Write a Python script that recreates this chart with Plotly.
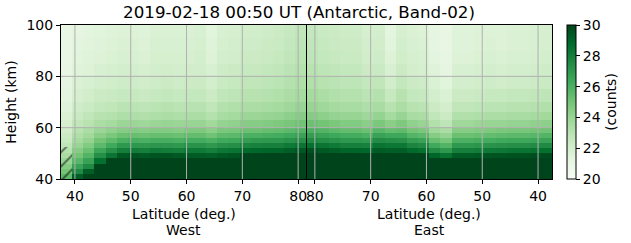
import numpy as np
import plotly.graph_objects as go

title_text = "2019-02-18 00:50 UT (Antarctic, Band-02)"

# Height bin edges (km)
height_edges = [40, 42, 44, 46, 48, 50, 52, 54, 56, 58, 60, 63, 66, 70, 75, 80, 85, 90, 95, 100]

# Latitude bin edges (deg) for the two halves of the pass
west_lat_edges = [37.5, 39.5, 41.5, 43.5, 45.5, 47.5, 49.5, 51.5, 53.5, 55.5, 57.5, 59.5,
                  61.5, 63.5, 65.5, 67.5, 69.5, 71.5, 73.5, 75.5, 77.5, 79.5, 81.5]
east_lat_edges = [81.5, 79.5, 77.5, 75.5, 73.5, 71.5, 69.5, 67.5, 65.5, 63.5, 61.5, 59.5,
                  57.5, 55.5, 53.5, 51.5, 49.5, 47.5, 45.5, 43.5, 41.5, 39.5, 37.5]

# Counts profiles (bottom -> top, one per latitude bin), West side
west_profiles = [
    [25.6, 25.0, 24.5, 24.0, 23.5, 23.1, 22.8, 22.5, 22.3, 22.1, 21.9, 21.7, 21.5, 21.3, 21.2, 21.1, 21.0, 21.0, 21.0],
    [29.2, 27.6, 26.6, 25.7, 25.0, 24.5, 24.0, 23.6, 23.3, 23.0, 22.7, 22.4, 22.2, 21.9, 21.7, 21.5, 21.4, 21.3, 21.2],
    [30.6, 29.2, 27.6, 26.6, 25.8, 25.2, 24.6, 24.1, 23.7, 23.4, 23.0, 22.7, 22.4, 22.1, 21.8, 21.6, 21.5, 21.4, 21.3],
    [31.0, 31.0, 30.2, 28.6, 27.4, 26.5, 25.6, 25.0, 24.4, 23.9, 23.4, 23.0, 22.6, 22.3, 22.0, 21.8, 21.6, 21.5, 21.4],
    [31.0, 31.0, 31.0, 30.2, 28.4, 27.3, 26.3, 25.5, 24.8, 24.2, 23.6, 23.1, 22.7, 22.4, 22.1, 21.9, 21.7, 21.6, 21.5],
    [31.0, 31.0, 31.0, 31.0, 29.4, 28.0, 27.0, 26.0, 25.2, 24.5, 23.9, 23.3, 22.9, 22.5, 22.2, 22.0, 21.8, 21.7, 21.6],
    [31.0, 31.0, 31.0, 31.0, 29.5, 28.1, 27.0, 26.1, 25.3, 24.6, 23.9, 23.3, 22.9, 22.5, 22.2, 22.0, 21.8, 21.7, 21.6],
    [31.0, 31.0, 31.0, 31.0, 29.4, 28.0, 27.0, 26.0, 25.2, 24.5, 23.8, 23.2, 22.8, 22.4, 22.1, 21.9, 21.7, 21.6, 21.5],
    [31.0, 31.0, 31.0, 31.0, 29.5, 28.2, 27.1, 26.1, 25.3, 24.6, 23.9, 23.3, 22.9, 22.5, 22.2, 22.0, 21.9, 21.8, 21.7],
    [31.0, 31.0, 31.0, 31.0, 29.5, 28.1, 27.1, 26.1, 25.3, 24.6, 24.0, 23.4, 23.0, 22.6, 22.3, 22.1, 21.9, 21.8, 21.7],
    [31.0, 31.0, 31.0, 31.0, 29.4, 28.0, 27.0, 26.0, 25.2, 24.5, 23.9, 23.3, 22.9, 22.5, 22.2, 22.0, 21.9, 21.8, 21.7],
    [31.0, 31.0, 31.0, 31.0, 29.3, 28.2, 27.2, 26.2, 25.4, 24.7, 24.0, 23.4, 23.0, 22.6, 22.3, 22.1, 21.9, 21.8, 21.7],
    [31.0, 31.0, 31.0, 31.0, 29.3, 28.2, 27.2, 26.2, 25.4, 24.7, 24.0, 23.4, 23.0, 22.6, 22.3, 22.1, 22.0, 21.9, 21.8],
    [31.0, 31.0, 31.0, 31.0, 29.2, 28.0, 27.0, 26.0, 25.1, 24.4, 23.7, 23.1, 22.7, 22.3, 22.0, 21.8, 21.6, 21.5, 21.4],
    [31.0, 31.0, 31.0, 31.0, 29.4, 28.3, 27.3, 26.3, 25.5, 24.8, 24.1, 23.5, 23.1, 22.7, 22.4, 22.2, 22.0, 21.9, 21.8],
    [31.0, 31.0, 31.0, 31.0, 29.5, 28.4, 27.4, 26.4, 25.6, 24.9, 24.2, 23.6, 23.2, 22.8, 22.5, 22.3, 22.1, 22.0, 21.9],
    [31.0, 31.0, 31.0, 31.0, 30.0, 28.8, 27.8, 26.8, 26.0, 25.2, 24.5, 23.9, 23.4, 23.0, 22.7, 22.5, 22.3, 22.2, 22.1],
    [31.0, 31.0, 31.0, 31.0, 30.1, 28.9, 27.9, 26.9, 26.0, 25.2, 24.5, 23.9, 23.4, 23.0, 22.7, 22.5, 22.3, 22.2, 22.1],
    [31.0, 31.0, 31.0, 31.0, 30.2, 29.0, 28.0, 27.0, 26.1, 25.3, 24.6, 24.0, 23.5, 23.1, 22.8, 22.6, 22.4, 22.3, 22.2],
    [31.0, 31.0, 31.0, 31.0, 30.2, 29.0, 28.0, 27.0, 26.2, 25.4, 24.7, 24.1, 23.6, 23.2, 22.9, 22.7, 22.5, 22.4, 22.3],
    [31.0, 31.0, 31.0, 31.0, 30.3, 29.2, 28.2, 27.2, 26.4, 25.6, 24.9, 24.3, 23.8, 23.4, 23.1, 22.9, 22.7, 22.6, 22.5],
    [31.0, 31.0, 31.0, 31.0, 30.4, 29.4, 28.4, 27.4, 26.6, 25.8, 25.1, 24.5, 24.0, 23.6, 23.3, 23.1, 22.9, 22.8, 22.7],
]

# East side (from the pole side 80 deg down to 37.5 deg)
east_profiles = [
    [31.0, 31.0, 31.0, 31.0, 31.0, 29.6, 28.6, 27.6, 26.8, 26.0, 25.2, 24.5, 24.0, 23.6, 23.2, 23.0, 22.8, 22.7, 22.6],
    [31.0, 31.0, 31.0, 31.0, 31.0, 29.4, 28.4, 27.4, 26.6, 25.8, 25.0, 24.3, 23.8, 23.4, 23.0, 22.8, 22.6, 22.5, 22.4],
    [31.0, 31.0, 31.0, 31.0, 31.0, 29.2, 28.2, 27.2, 26.4, 25.6, 24.8, 24.1, 23.6, 23.2, 22.9, 22.7, 22.5, 22.4, 22.3],
    [31.0, 31.0, 31.0, 31.0, 31.0, 29.0, 28.0, 27.0, 26.2, 25.4, 24.6, 24.0, 23.5, 23.1, 22.8, 22.6, 22.4, 22.3, 22.2],
    [31.0, 31.0, 31.0, 31.0, 30.6, 29.0, 28.0, 27.0, 26.2, 25.4, 24.6, 24.0, 23.5, 23.1, 22.8, 22.6, 22.4, 22.3, 22.2],
    [31.0, 31.0, 31.0, 31.0, 30.5, 28.9, 27.9, 26.9, 26.0, 25.2, 24.4, 23.8, 23.3, 22.9, 22.6, 22.3, 22.1, 22.0, 21.9],
    [31.0, 31.0, 31.0, 31.0, 30.4, 29.3, 28.4, 27.5, 26.6, 25.7, 24.8, 24.1, 23.5, 23.1, 22.7, 22.4, 22.2, 22.1, 22.0],
    [31.0, 31.0, 31.0, 31.0, 30.3, 29.2, 28.3, 27.4, 26.4, 25.4, 24.4, 23.6, 23.0, 22.5, 22.1, 21.8, 21.6, 21.4, 21.3],
    [31.0, 31.0, 31.0, 31.0, 30.2, 29.2, 28.3, 27.3, 26.4, 25.5, 24.7, 24.0, 23.4, 23.0, 22.6, 22.3, 22.1, 22.0, 21.9],
    [31.0, 31.0, 31.0, 31.0, 30.0, 28.8, 27.8, 26.8, 25.8, 25.0, 24.2, 23.5, 23.0, 22.6, 22.3, 22.0, 21.9, 21.8, 21.7],
    [31.0, 31.0, 31.0, 31.0, 30.0, 28.6, 27.6, 26.6, 25.6, 24.8, 24.0, 23.4, 22.9, 22.5, 22.2, 21.9, 21.8, 21.7, 21.6],
    [31.0, 31.0, 31.0, 30.5, 29.0, 27.5, 26.3, 25.3, 24.5, 23.8, 23.2, 22.7, 22.3, 22.0, 21.7, 21.5, 21.3, 21.2, 21.2],
    [31.0, 31.0, 31.0, 30.5, 28.5, 27.0, 25.8, 24.9, 24.1, 23.4, 22.8, 22.3, 22.0, 21.7, 21.4, 21.2, 21.1, 21.0, 21.0],
    [31.0, 31.0, 31.0, 31.0, 29.3, 28.0, 27.0, 26.0, 25.2, 24.5, 23.8, 23.2, 22.7, 22.3, 22.0, 21.8, 21.6, 21.5, 21.5],
    [31.0, 31.0, 31.0, 31.0, 29.3, 28.0, 27.0, 26.0, 25.2, 24.5, 23.8, 23.2, 22.7, 22.3, 22.0, 21.8, 21.6, 21.5, 21.5],
    [31.0, 31.0, 31.0, 31.0, 29.4, 28.1, 27.1, 26.1, 25.3, 24.6, 23.9, 23.3, 22.8, 22.4, 22.1, 21.9, 21.7, 21.6, 21.6],
    [31.0, 31.0, 31.0, 31.0, 29.5, 28.2, 27.2, 26.2, 25.4, 24.7, 24.0, 23.4, 22.9, 22.5, 22.2, 22.0, 21.8, 21.7, 21.6],
    [31.0, 31.0, 31.0, 31.0, 29.5, 28.3, 27.3, 26.3, 25.5, 24.8, 24.0, 23.4, 22.9, 22.5, 22.1, 21.9, 21.7, 21.6, 21.6],
    [31.0, 31.0, 31.0, 31.0, 29.6, 28.4, 27.4, 26.4, 25.6, 24.9, 24.1, 23.5, 23.0, 22.6, 22.2, 22.0, 21.8, 21.7, 21.7],
    [31.0, 31.0, 31.0, 31.0, 29.6, 28.4, 27.4, 26.4, 25.6, 24.9, 24.1, 23.5, 23.0, 22.6, 22.2, 22.0, 21.8, 21.7, 21.7],
    [31.0, 31.0, 31.0, 31.0, 29.7, 28.5, 27.5, 26.5, 25.7, 25.0, 24.2, 23.6, 23.1, 22.7, 22.3, 22.1, 21.9, 21.8, 21.8],
    [31.0, 31.0, 31.0, 31.0, 29.8, 28.6, 27.6, 26.6, 25.8, 25.1, 24.3, 23.7, 23.2, 22.8, 22.4, 22.2, 22.0, 21.9, 21.9],
]

tick_lats = [40, 50, 60, 70, 80]
height_ticks = [40, 60, 80, 100]
count_ticks = [20, 22, 24, 26, 28, 30]

# Hatched (flagged) region
hatch_lat = [37.5, 39.5]
hatch_height = [40, 52.5]

# ---------------------------------------------------------------
seam = west_lat_edges[-1]
def east_to_u(lat):
    return 2 * seam - lat

x_edges = west_lat_edges + [east_to_u(v) for v in east_lat_edges[1:]]
z = np.array(west_profiles + east_profiles).T

greens = [[0.0, "#f7fcf5"], [0.125, "#e5f5e0"], [0.25, "#c7e9c0"], [0.375, "#a1d99b"],
          [0.5, "#74c476"], [0.625, "#41ab5d"], [0.75, "#238b45"], [0.875, "#006d2c"],
          [1.0, "#00441b"]]

FONT = "DejaVu Sans"
W, H = 631, 243
L, R, T, B = 61, 74, 25, 64
plot_w = W - L - R

fig = go.Figure()
fig.add_trace(go.Heatmap(
    x=x_edges, y=height_edges, z=z, zmin=20, zmax=30, colorscale=greens,
    hoverinfo="skip",
    colorbar=dict(
        x=1 + 15 / plot_w, xanchor="left", xpad=0, ypad=0,
        y=0.5, yanchor="middle", len=1, lenmode="fraction",
        thickness=9, outlinewidth=1, outlinecolor="black",
        tickvals=count_ticks, ticks="outside", ticklen=4, tickcolor="black",
        tickfont=dict(family=FONT, size=14, color="black"),
        title=dict(text="(counts)", side="right", font=dict(family=FONT, size=14, color="black")),
    ),
))

fig.add_trace(go.Bar(
    x=[(hatch_lat[0] + hatch_lat[1]) / 2], y=[hatch_height[1] - hatch_height[0]],
    base=hatch_height[0], width=hatch_lat[1] - hatch_lat[0],
    marker=dict(color="rgba(0,0,0,0)", line=dict(width=0),
                pattern=dict(shape="/", fgcolor="black", bgcolor="rgba(0,0,0,0)",
                             size=10, solidity=0.2, fillmode="overlay")),
    hoverinfo="skip", showlegend=False,
))

x_tickvals = tick_lats + [east_to_u(v) for v in reversed(tick_lats)]
x_ticktext = [str(v) for v in tick_lats] + [str(v) for v in reversed(tick_lats)]

shapes = []
for xv in x_tickvals:
    shapes.append(dict(type="line", xref="x", yref="paper", x0=xv, x1=xv, y0=0, y1=1,
                       line=dict(color="#b0b0b0", width=1), layer="above"))
for yv in height_ticks[1:-1]:
    shapes.append(dict(type="line", xref="paper", yref="y", x0=0, x1=1, y0=yv, y1=yv,
                       line=dict(color="#b0b0b0", width=1), layer="above"))
shapes.append(dict(type="line", xref="x", yref="paper", x0=seam, x1=seam, y0=0, y1=1,
                   line=dict(color="black", width=1), layer="above"))

west_mid = (west_lat_edges[0] + seam) / 2
east_mid = (seam + east_to_u(east_lat_edges[-1])) / 2
annotations = []
for xm, side in [(west_mid, "West"), (east_mid, "East")]:
    annotations.append(dict(x=xm, xref="x", y=0, yref="paper", yanchor="middle", yshift=-35,
                            text="Latitude (deg.)", showarrow=False,
                            font=dict(family=FONT, size=14, color="black")))
    annotations.append(dict(x=xm, xref="x", y=0, yref="paper", yanchor="middle", yshift=-51,
                            text=side, showarrow=False,
                            font=dict(family=FONT, size=14, color="black")))

fig.update_layout(
    width=W, height=H, margin=dict(l=L, r=R, t=T, b=B),
    paper_bgcolor="white", plot_bgcolor="white",
    font=dict(family=FONT, size=14, color="black"),
    title=dict(text=title_text, x=299 / W, xanchor="center", xref="container",
               y=1 - 12 / H, yanchor="middle", yref="container",
               font=dict(family=FONT, size=16.7, color="black")),
    xaxis=dict(range=[x_edges[0], x_edges[-1]], tickvals=x_tickvals, ticktext=x_ticktext,
               tickangle=0,
               showgrid=False, zeroline=False, ticks="outside", ticklen=4, tickcolor="black",
               showline=True, mirror=True, linecolor="black", linewidth=1, layer="above traces",
               tickfont=dict(family=FONT, size=14, color="black")),
    yaxis=dict(range=[height_edges[0], height_edges[-1]], tickvals=height_ticks,
               showgrid=False, zeroline=False, ticks="outside", ticklen=4, tickcolor="black",
               showline=True, mirror=True, linecolor="black", linewidth=1, layer="above traces",
               title=dict(text="Height (km)", standoff=6, font=dict(family=FONT, size=14, color="black")),
               tickfont=dict(family=FONT, size=14, color="black")),
    shapes=shapes, annotations=annotations, showlegend=False,
)

fig.write_html("out.html")
